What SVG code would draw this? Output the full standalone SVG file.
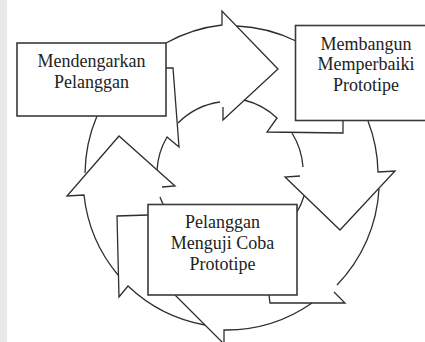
<svg xmlns="http://www.w3.org/2000/svg" width="425" height="342" viewBox="0 0 425 342">
<style>
.ring{fill:none;stroke:#2e2e2e;stroke-width:1.3;stroke-linejoin:miter}
.box{fill:#ffffff;stroke:#3a3a3a;stroke-width:1.6}
.lbl{font-family:"Liberation Serif","Times New Roman",serif;font-size:18px;fill:#222222;text-anchor:middle}
</style>
<rect x="0" y="0" width="425" height="342" fill="#ffffff"/>
<rect x="0" y="0" width="7" height="342" fill="#e8e8e8"/>
<g id="connectors">
  <g id="arrow-top">
    <path class="ring" d="M166,43 A150,150 0 0 1 222,25 L222,11 L278,69 L223,120 L223,107"/>
    <path class="ring" d="M178,123 A74,74 0 0 1 220,102"/>
    <path class="ring" d="M166,68 L173,68 L179,147 L167,137 A74,74 0 0 0 157,170"/>
  </g>
  <g id="arrow-right">
    <path class="ring" d="M237,26 A150,150 0 0 1 296,41"/>
    <path class="ring" d="M244,100 A74,74 0 0 1 277,118 L267,132 L343,133 L343,121"/>
    <path class="ring" d="M292,133 A74,74 0 0 1 303,167"/>
    <path class="ring" d="M368,121 A150,150 0 0 1 378,172 L395,171 L340,230 L285,177 L300,176"/>
  </g>
  <g id="arrow-bottom">
    <path class="ring" d="M379,189 A150,150 0 0 1 337,285"/>
    <path class="ring" d="M334,292 L345,303 L270,303 L269,295"/>
    <path class="ring" d="M304,196 A74,74 0 0 1 297,212"/>
    <path class="ring" d="M312,303 A150,150 0 0 1 224,330 L224,344 L175,295"/>
  </g>
  <g id="arrow-left">
    <path class="ring" d="M97,116 A150,150 0 0 0 85,173"/>
    <path class="ring" d="M118,275 A150,150 0 0 1 84,195 L67,196 L119,136 L175,186 L162,187"/>
    <path class="ring" d="M160,197 A74,74 0 0 0 163,204"/>
    <path class="ring" d="M148,215 L117,216 L119,297 L128,286 A150,150 0 0 0 205,325"/>
  </g>
</g>
<g id="node-mendengarkan">
  <rect class="box" x="17" y="43" width="149" height="73"/>
  <text class="lbl" x="91.5" y="66.5">Mendengarkan</text>
  <text class="lbl" x="91.5" y="87.5">Pelanggan</text>
</g>
<g id="node-membangun">
  <rect class="box" x="295.5" y="25.5" width="145" height="95"/>
  <text class="lbl" x="366" y="49.5">Membangun</text>
  <text class="lbl" x="366" y="70">Memperbaiki</text>
  <text class="lbl" x="366" y="91">Prototipe</text>
</g>
<g id="node-menguji">
  <rect class="box" x="148" y="204.5" width="149" height="90.5"/>
  <text class="lbl" x="222.5" y="228">Pelanggan</text>
  <text class="lbl" x="222.5" y="249">Menguji Coba</text>
  <text class="lbl" x="222.5" y="270">Prototipe</text>
</g>
</svg>
